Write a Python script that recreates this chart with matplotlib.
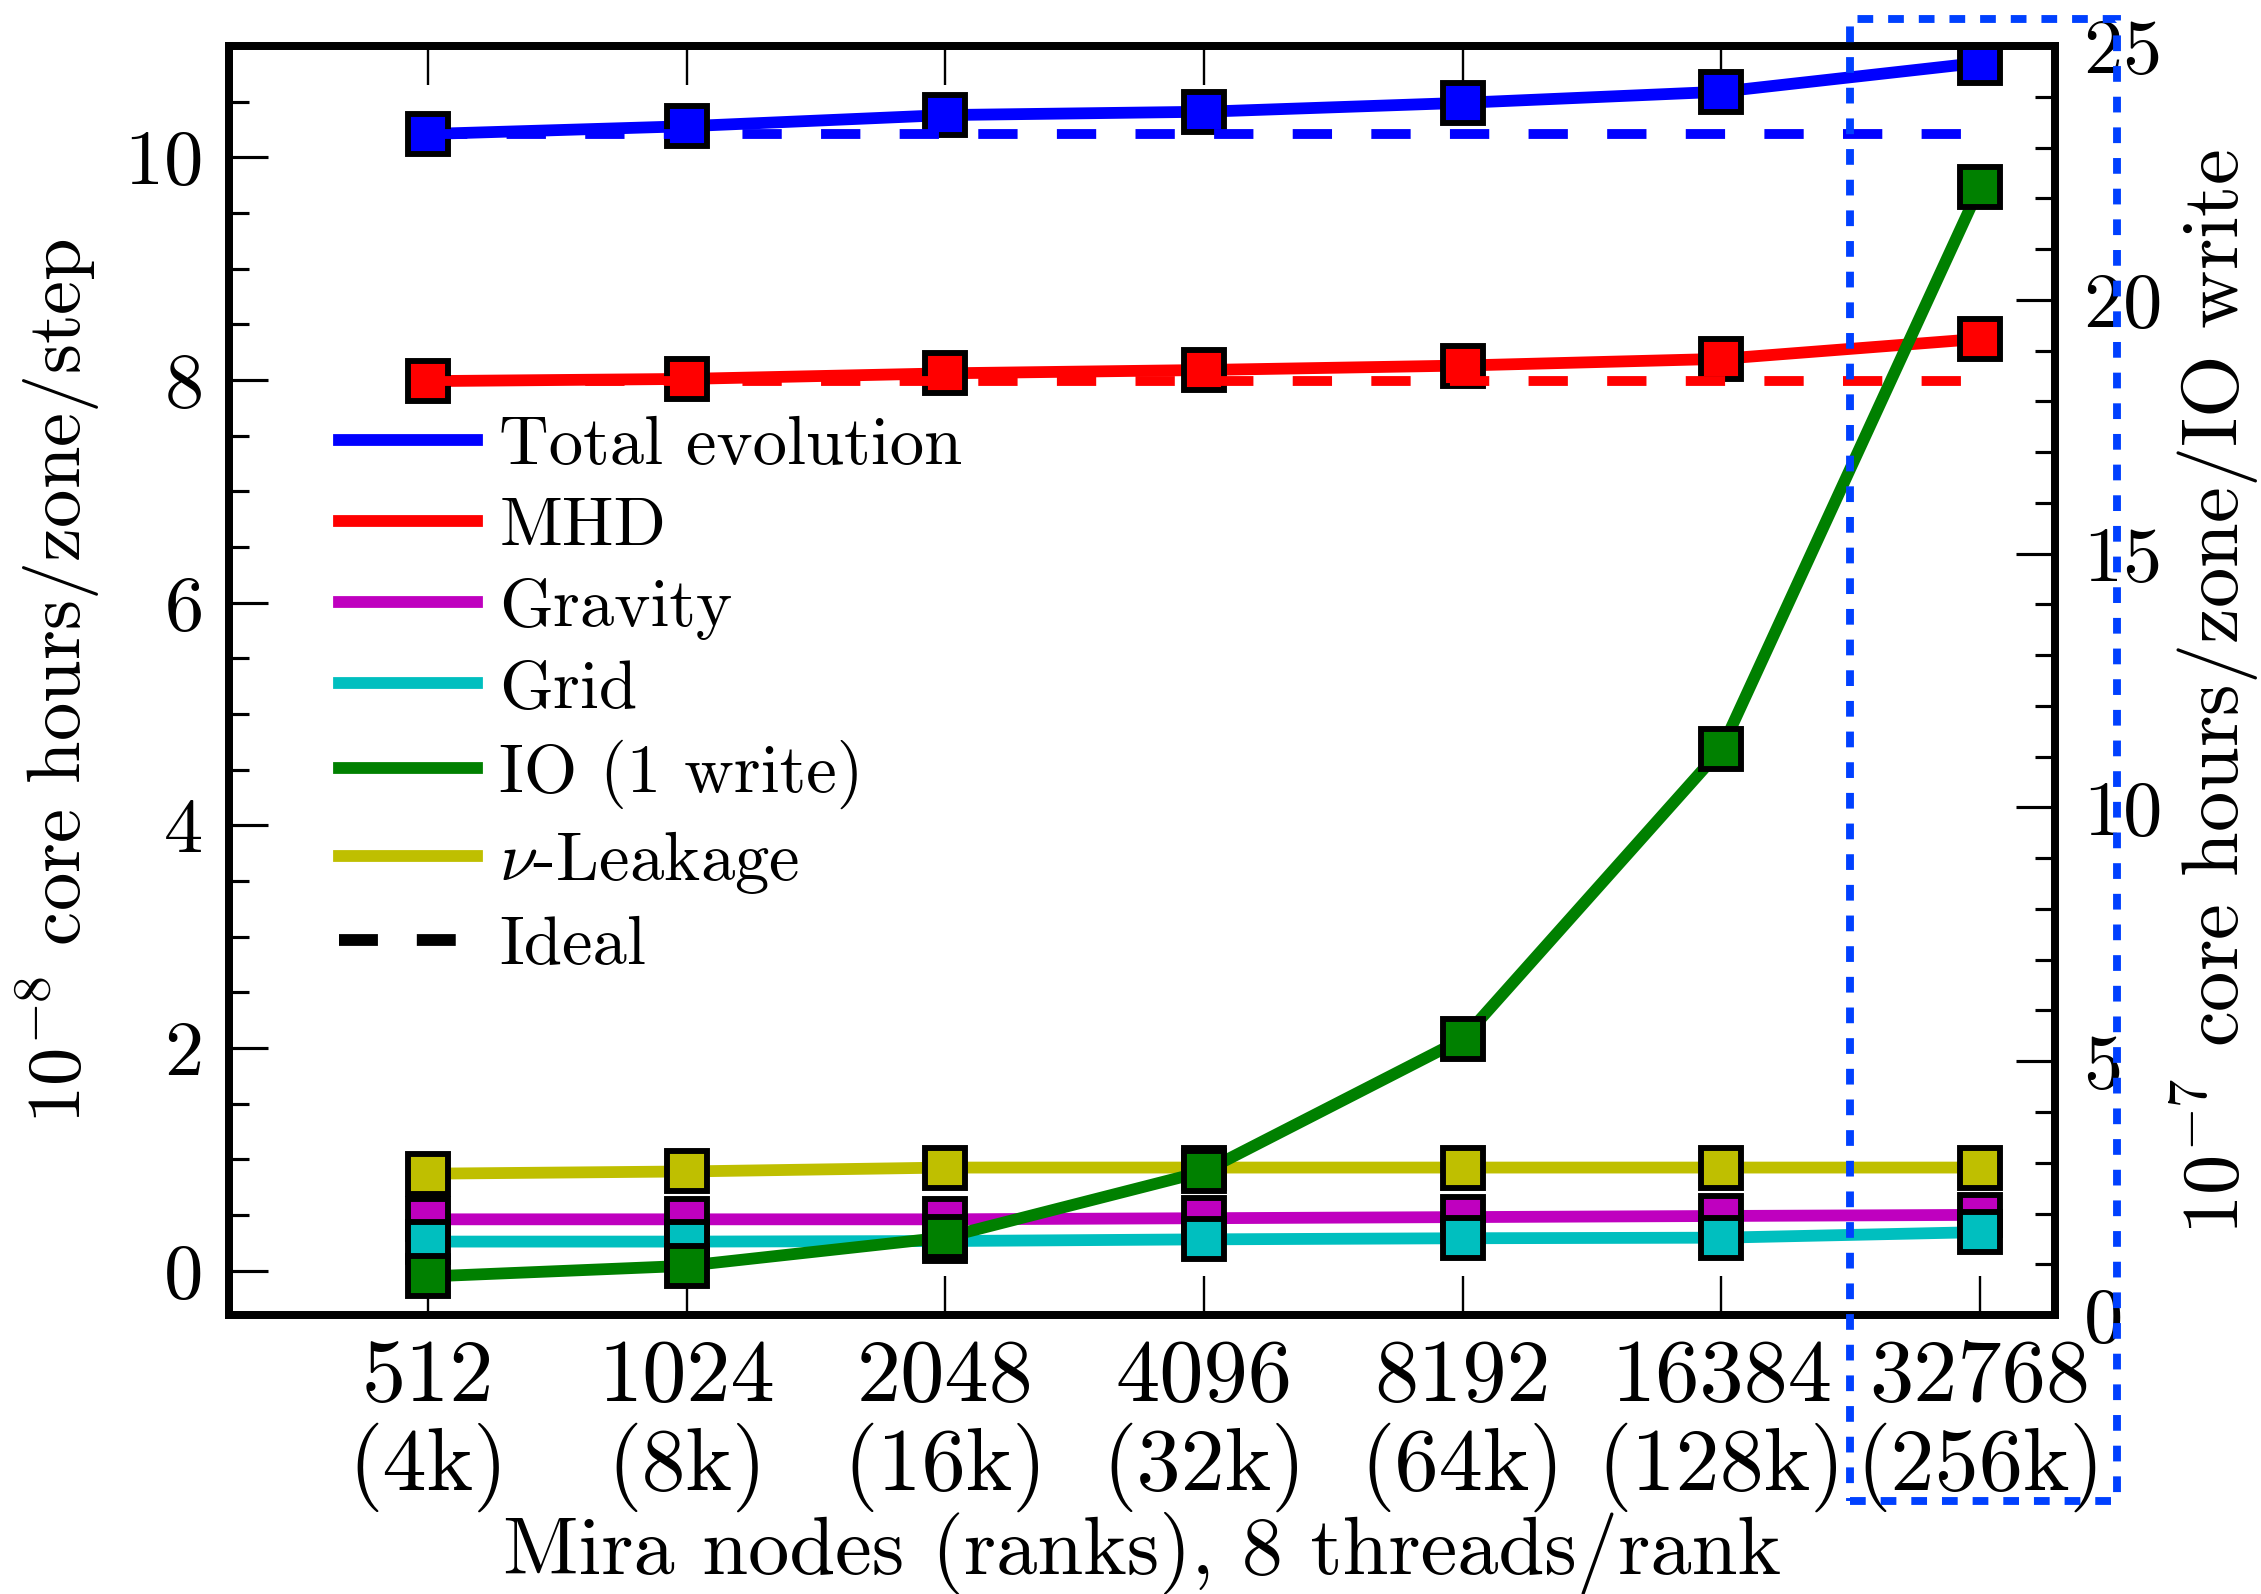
import matplotlib
matplotlib.use('Agg')
import matplotlib.pyplot as plt
from matplotlib.lines import Line2D
from matplotlib.patches import Rectangle
from matplotlib.ticker import MultipleLocator

plt.rcParams['font.family'] = 'cmr10'
plt.rcParams['mathtext.fontset'] = 'cm'
plt.rcParams['axes.unicode_minus'] = False
plt.rcParams['axes.formatter.use_mathtext'] = True
plt.rcParams['font.size'] = 20

# data
nodes = ['512', '1024', '2048', '4096', '8192', '16384', '32768']
ranks = ['4k', '8k', '16k', '32k', '64k', '128k', '256k']
total = [10.21, 10.28, 10.38, 10.41, 10.49, 10.59, 10.85]
mhd = [7.99, 8.01, 8.06, 8.09, 8.13, 8.19, 8.37]
gravity = [0.46, 0.46, 0.46, 0.47, 0.48, 0.49, 0.50]
grid = [0.26, 0.26, 0.265, 0.28, 0.29, 0.295, 0.345]
leakage = [0.87, 0.89, 0.925, 0.925, 0.925, 0.925, 0.925]
io_write = [0.76, 0.97, 1.53, 2.83, 5.44, 11.15, 22.23]   # right axis

DPI = 283
fig = plt.figure(figsize=(2261 / DPI, 1594 / DPI), dpi=DPI)
ax = fig.add_axes([0.1013, 0.1750, 0.8076, 0.7961])
x = list(range(len(nodes)))

mk = dict(marker='s', ms=10, mew=1.5, mec='k', lw=3)
ideal = dict(lw=2.5, ls=(0, (4, 4)), zorder=3)

ax.plot(x, total, color='b', **mk)
ax.plot(x, mhd, color='r', **mk)
ax.plot(x, gravity, color='m', **mk)
ax.plot(x, grid, color='c', **mk)
ax.plot(x, leakage, color='y', **mk)
ax.plot(x, [total[0]] * len(x), color='b', **ideal)
ax.plot(x, [mhd[0]] * len(x), color='r', **ideal)

ax2 = ax.twinx()
ax2.plot(x, io_write, color='g', **mk)

ax.set_xlim(-0.77, 6.29)
ax.set_ylim(-0.4, 11.0)
ax2.set_ylim(0, 25)

ax.set_xticks(x)
ax.set_xticklabels([n + '\n(' + r + ')' for n, r in zip(nodes, ranks)],
                   fontsize=22.5, linespacing=1.07)
ax.set_yticks([0, 2, 4, 6, 8, 10])
ax.yaxis.set_minor_locator(MultipleLocator(0.5))
ax2.set_yticks([0, 5, 10, 15, 20, 25])
ax2.yaxis.set_minor_locator(MultipleLocator(1))

ax.tick_params(axis='x', which='major', direction='in', length=10, width=0.6,
               top=True, bottom=True, pad=6)
ax.tick_params(axis='y', which='major', direction='in', length=10, width=0.8,
               left=True, right=False, pad=7)
ax.tick_params(axis='y', which='minor', direction='in', length=5, width=0.8,
               left=True, right=False)
ax2.tick_params(axis='y', which='major', direction='in', length=10, width=0.8, pad=7)
ax2.tick_params(axis='y', which='minor', direction='in', length=5, width=0.8)

for a in (ax, ax2):
    for s in a.spines.values():
        s.set_linewidth(2)

ax.set_xlabel('Mira nodes (ranks), 8 threads/rank', fontsize=21, labelpad=0)
ax.set_ylabel(r'$10^{-8}$ core hours/zone/step', fontsize=19.5, labelpad=5.5)
ax2.set_ylabel(r'$10^{-7}$ core hours/zone/IO write', fontsize=20.5, labelpad=2)
ax2.yaxis.label.set_y(0.491)

handles = [Line2D([], [], color=c, lw=3) for c in ['b', 'r', 'm', 'c', 'g', 'y']]
handles.append(Line2D([], [], color='k', lw=3, ls=(0, (3.3, 3.3))))
labels = ['Total evolution', 'MHD', 'Gravity', 'Grid', 'IO (1 write)',
          r'$\nu$-Leakage', 'Ideal']
ax.legend(handles, labels, loc='upper left', bbox_to_anchor=(0.150, 0.739),
          bbox_transform=fig.transFigure, frameon=False, fontsize=17.5,
          handlelength=2.0, handletextpad=0.33, labelspacing=0.285,
          borderpad=0, borderaxespad=0)

# dotted box around the largest run
box = Rectangle((0.8182, 0.0583), 0.1181, 0.9298, transform=fig.transFigure,
                fill=False, ec='#0040ff', lw=2, ls=(0, (2, 1.9)), clip_on=False)
fig.add_artist(box)

fig.savefig('out.png', dpi=DPI)
